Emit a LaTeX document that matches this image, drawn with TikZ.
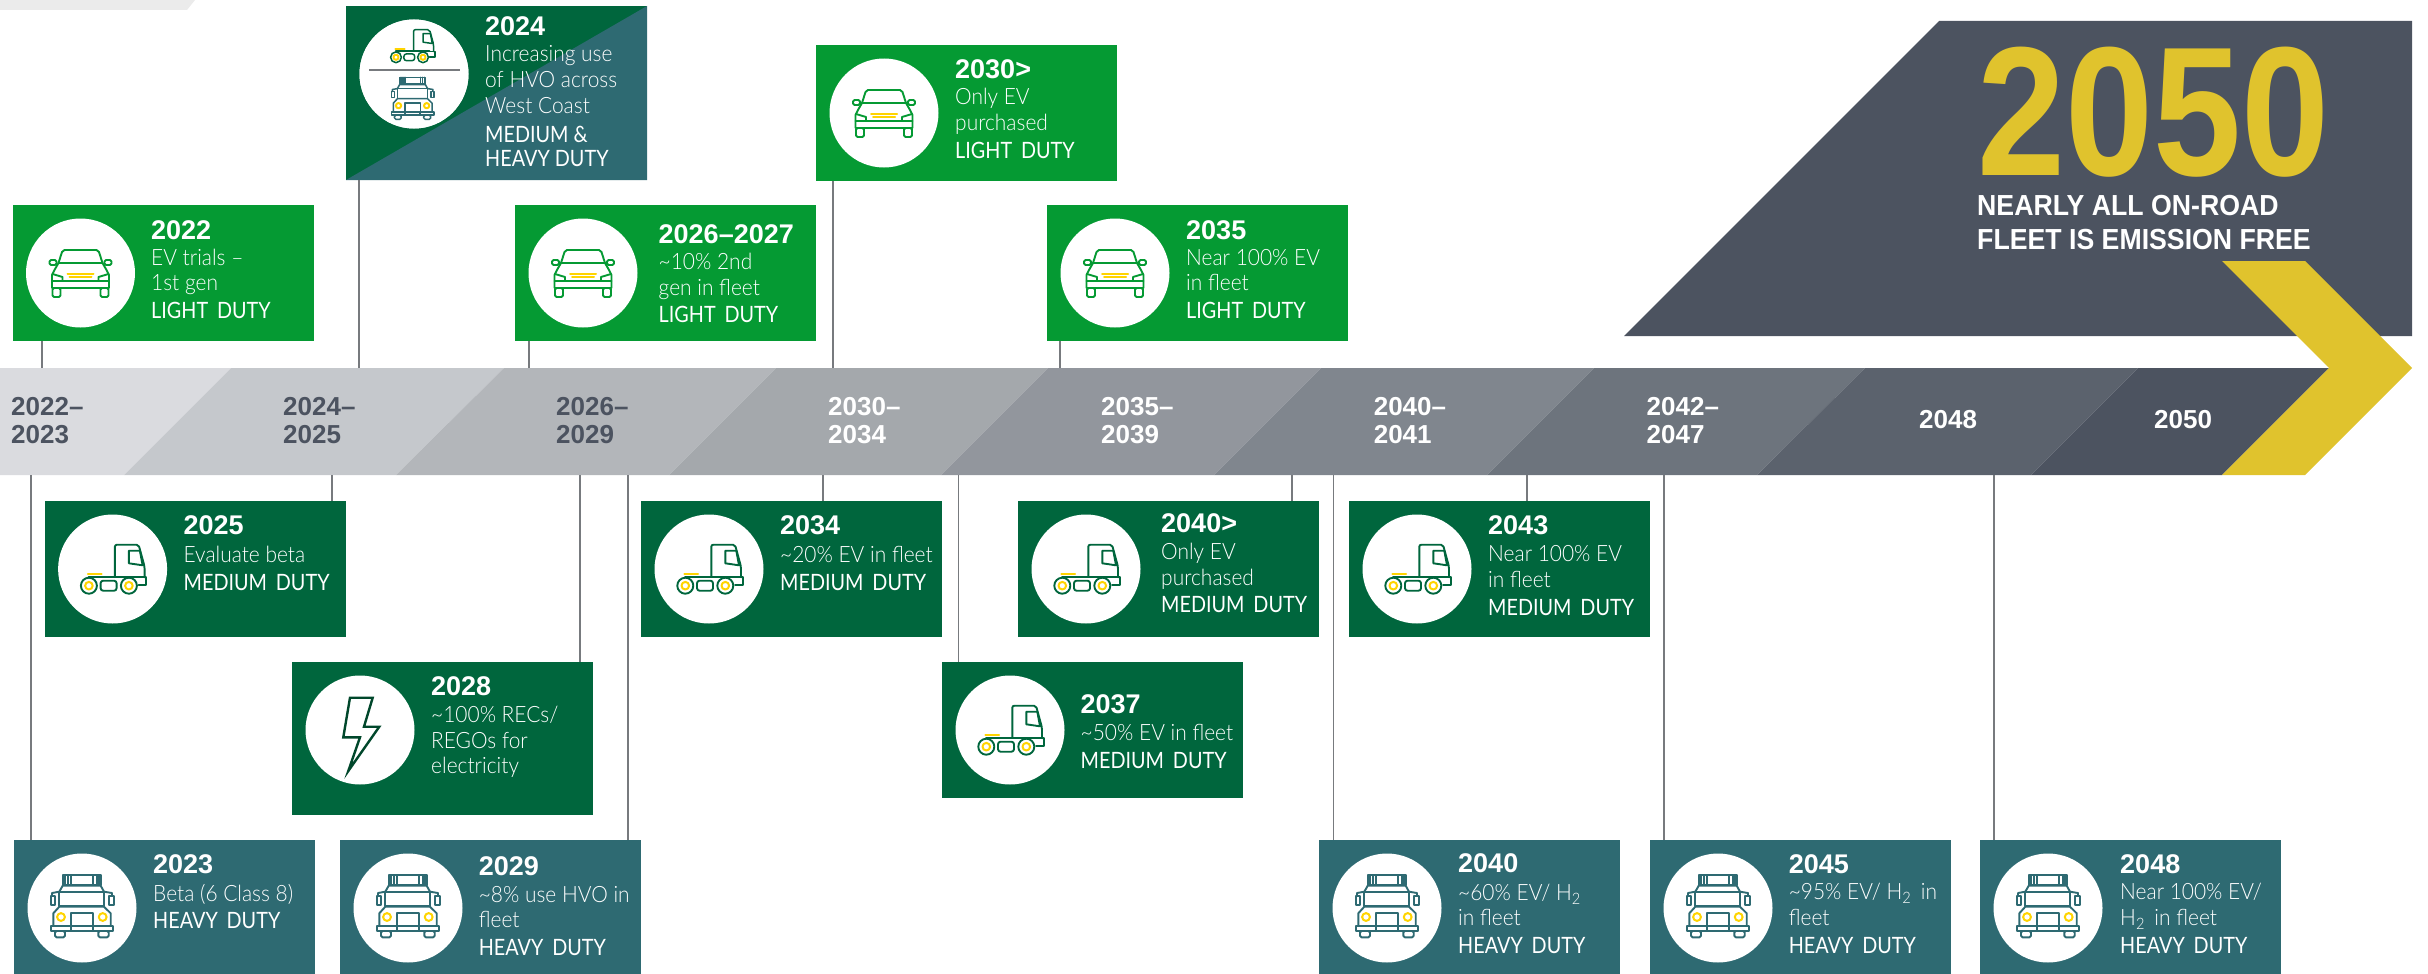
\documentclass[tikz,border=0pt]{standalone}
\usepackage{fontspec}
\usetikzlibrary{calc}
\setmainfont{Lato}[FakeStretch=0.88]
\newfontfamily\yrfam{Liberation Sans}[BoldFont={Liberation Sans Bold}]
\newfontfamily\lightfam{Lato Light}[FakeStretch=0.93]
\newfontfamily\headfam{Liberation Sans Bold}[FakeStretch=0.92]
\newfontfamily\bigfam{Liberation Sans Bold}[FakeStretch=0.86]
\definecolor{lg}{HTML}{059A33}
\definecolor{dg}{HTML}{00663D}
\definecolor{tl}{HTML}{2E6A72}
\definecolor{ye}{HTML}{FFD400}
\definecolor{gold}{HTML}{E0C32D}
\definecolor{slate}{HTML}{4C5360}
\definecolor{ln}{HTML}{777A7E}
\definecolor{sa}{HTML}{DADBDF}
\definecolor{sb}{HTML}{C5C8CC}
\definecolor{sc}{HTML}{B3B6BA}
\definecolor{sd}{HTML}{A4A8AC}
\definecolor{se}{HTML}{92969D}
\definecolor{sf}{HTML}{80868E}
\definecolor{sg}{HTML}{6D747D}
\definecolor{sh}{HTML}{5B626D}
\newcount\tncount
\tikzset{
  tbox/.style={anchor=north west,inner sep=0pt,outer sep=0pt,minimum width=301pt},
  disc/.style={circle,fill=white,inner sep=0pt,outer sep=0pt,minimum size=109pt},
  conn/.style={draw=ln,line width=1.4pt},
  icon/.style={line width=1.9pt,line join=round,line cap=round},
  yel/.style={draw=ye,line width=2pt},
  yrtext/.style={anchor=base west,inner sep=0pt,text=white,font=\yrfam\bfseries\fontsize{27}{30}\selectfont},
  bodytext/.style={anchor=base west,inner sep=0pt,text=white,font=\lightfam\fontsize{22.5}{26}\selectfont},
  dutytext/.style={anchor=base west,inner sep=0pt,text=white,font=\fontsize{22.5}{26}\selectfont},
  barlabel/.style={anchor=base west,inner sep=0pt,font=\yrfam\bfseries\fontsize{26}{30}\selectfont},
  headtext/.style={anchor=base west,inner sep=0pt,text=white,font=\headfam\fontsize{29}{33}\selectfont},
  iconcar/.pic={
    \begin{scope}[icon]
    \draw (-22,-10) -- (-18.5,-21) -- (-16,-23) -- (16,-23) -- (18.5,-21) -- (22,-10);
    \draw (-28.5,15) -- (-28.5,2) -- (-26,-3) -- (-22,-10) -- (22,-10) -- (26,-3) -- (28.5,2) -- (28.5,15) -- cycle;
    \draw (-28.5,8) -- (28.5,8);
    \draw (-28,1) -- (-18,4) -- (-18,8);
    \draw (28,1) -- (18,4) -- (18,8);
    \draw[rounded corners=1.5pt] (-28,15) rectangle (-20,24);
    \draw[rounded corners=1.5pt] (20,15) rectangle (28,24);
    \draw[rounded corners=1.5pt] (-31,-13) rectangle (-24,-8);
    \draw[rounded corners=1.5pt] (24,-13) rectangle (31,-8);
    \draw[yel] (-13,0.7) -- (13,0.7);
    \draw[yel] (-11,4.3) -- (11,4.3);
    \end{scope}
  },
  icontruck/.pic={
    \begin{scope}[icon]
    \draw[rounded corners=2pt] (2.3,7.7) -- (2.3,-24.3) -- (26,-24.3) -- (32,-2.3) -- (32,8.3);
    \draw (26,8.3) -- (33.7,8.3) -- (33.7,16) -- (26,16);
    \draw (-24,7.7) -- (26,7.7);
    \draw (16.3,-18.3) -- (27.3,-18.3) -- (30,-3.7) -- (16.3,-5.7) -- cycle;
    \draw[fill=white] (-23.7,16.7) circle (8);
    \draw[fill=white] (16.3,16.7) circle (8);
    \draw[yel] (-23.7,16.7) circle (3.8);
    \draw[yel] (16.3,16.7) circle (3.8);
    \draw[rounded corners=2.5pt] (-12,11.7) rectangle (4,21.7);
    \draw[yel] (-24.7,4.7) -- (-11,4.7);
    \end{scope}
  },
  iconheavy/.pic={
    \begin{scope}[icon]
    \draw (-19.3,-33) rectangle (19.3,-23);
    \foreach \vx in {-17,-14.3,-11.3,11.3,14.7,17.3} \draw (\vx,-33) -- (\vx,-23);
    \draw (-22.7,-16.3) -- (-19.3,-22.3) -- (18.7,-22.3) -- (22,-16.3);
    \draw (-22.7,-16.3) rectangle (22,-2);
    \draw (-28.7,18) -- (-28.7,5.3) -- (-22.7,-1.3) -- (22,-1.3) -- (28.7,5.3) -- (28.7,18);
    \draw (-31.3,18) rectangle (31.3,23);
    \draw (-11.3,18) -- (-11.3,23);
    \draw (10.7,18) -- (10.7,23);
    \draw (-11.3,4.7) rectangle (11.3,18);
    \draw[yel] (-21,9) circle (3.9);
    \draw[yel] (20.7,9) circle (3.9);
    \draw (-31.3,-12) rectangle (-26.7,-3);
    \draw (27,-12) rectangle (31.7,-3);
    \draw (-30,-12) -- (-30,-15) -- (-22.7,-16.3);
    \draw (30,-12) -- (30,-15) -- (22,-16.3);
    \draw[rounded corners=1.5pt] (-27,23) rectangle (-17,29.3);
    \draw[rounded corners=1.5pt] (16.3,23) rectangle (26.7,29.3);
    \end{scope}
  },
  iconbolt/.pic={
    \draw[draw=black!30!dg,line width=2.4pt,line join=miter]
      (-10,-32.3) -- (12.7,-32.3) -- (4,-3.3) -- (19.3,-3.3) -- (-11.7,41) -- (0,7.3) -- (-16.7,7.3) -- cycle;
  }
}
\newcommand\tlbox[6]{%
  \node[tbox,fill=#5,minimum height=#4pt] (b#1) at (#2,#3) {};
  \node[disc] (c#1) at (#2+68,#3+68) {};
  \ifx\relax#6\relax\else\pic[color=#5] at (c#1) {#6};\fi
}
\newcommand\putline[4]{\global\advance\tncount by 1 \node[#1] (t\the\tncount) at (#2,#3) {#4};}
\newcommand\yr[3]{\putline{yrtext}{#1}{#2}{#3}}
\newcommand\bd[3]{\putline{bodytext}{#1}{#2}{#3}}
\newcommand\dy[3]{\putline{dutytext}{#1}{#2}{#3}}
\newcommand\lb[4]{\putline{barlabel,text=#1}{#2}{#3}{#4}}
\newcommand\linkup[2]{\draw[conn] (b#1.south -| #2,0) -- (bar.north -| #2,0);}
\newcommand\linkdn[2]{\draw[conn] (bar.south -| #2,0) -- (b#1.north -| #2,0);}
\begin{document}
\begin{tikzpicture}[x=1pt,y=-1pt]
\useasboundingbox (0,0) rectangle (2428,974);
% stray band
\fill[black!8] (0,0) -- (195,0) -- (187,10) -- (0,10) -- cycle;
% big panel
\fill[slate] (1939,21) -- (2412,21) -- (2412,336) -- (1624,336) -- cycle;
% bar
\node[anchor=north west,inner sep=0pt,outer sep=0pt,minimum width=2412pt,minimum height=107pt] (bar) at (0,368) {};
\fill[sa] (0,368) -- (231,368) -- (124,475) -- (0,475) -- cycle;
\fill[sb] (124,475) -- (231,368) -- (504,368) -- (396,475) -- cycle;
\fill[sc] (396,475) -- (504,368) -- (776,368) -- (669,475) -- cycle;
\fill[sd] (669,475) -- (776,368) -- (1048,368) -- (941,475) -- cycle;
\fill[se] (941,475) -- (1048,368) -- (1321,368) -- (1214,475) -- cycle;
\fill[sf] (1214,475) -- (1321,368) -- (1594,368) -- (1487,475) -- cycle;
\fill[sg] (1487,475) -- (1594,368) -- (1865,368) -- (1757,475) -- cycle;
\fill[sh] (1757,475) -- (1865,368) -- (2138,368) -- (2031,475) -- cycle;
\fill[slate] (2031,475) -- (2138,368) -- (2329,368) -- (2222,475) -- cycle;
\fill[gold] (2222,261) -- (2305,261) -- (2412,368) -- (2305,475) -- (2222,475) -- (2329,368) -- cycle;
% headline
\node[anchor=base west,inner sep=0pt,text=gold,font=\bigfam\fontsize{184}{190}\selectfont] (headyear) at (1977,175.5) {2050};
\node[headtext] (head1) at (1977,215) {NEARLY ALL ON-ROAD};
\node[headtext] (head2) at (1977,249) {FLEET IS EMISSION FREE};
% boxes
\tlbox{2022}{12.5}{205}{136}{lg}{iconcar}
\tlbox{2024}{346}{6}{174}{dg}{}
\tlbox{2026}{515}{205}{136}{lg}{iconcar}
\tlbox{2030}{816}{45}{136}{lg}{iconcar}
\tlbox{2035}{1047}{205}{136}{lg}{iconcar}
\tlbox{2025}{44.6}{501}{136}{dg}{icontruck}
\tlbox{2028}{292}{662}{153}{dg}{iconbolt}
\tlbox{2034}{641}{501}{136}{dg}{icontruck}
\tlbox{2037}{942}{662}{136}{dg}{icontruck}
\tlbox{2040up}{1018}{501}{136}{dg}{icontruck}
\tlbox{2043}{1349}{501}{136}{dg}{icontruck}
\tlbox{2023}{14}{840}{134}{tl}{iconheavy}
\tlbox{2029}{340}{840}{134}{tl}{iconheavy}
\tlbox{2040}{1319}{840}{134}{tl}{iconheavy}
\tlbox{2045}{1650}{840}{134}{tl}{iconheavy}
\tlbox{2048}{1980}{840}{134}{tl}{iconheavy}
% split box 2024
\fill[tl] (b2024.north east) -- (b2024.south east) -- (b2024.south west) -- cycle;
\node[disc] (c2024b) at (c2024) {};
\pic[color=dg,scale=0.675,icon/.append style={line width=1.5pt}] at (412,46) {icontruck};
\pic[color=tl,scale=0.675,icon/.append style={line width=1.5pt}] at (412.7,99.6) {iconheavy};
\draw[draw=ln,line width=2pt] ($(c2024b)+(-45,-4.3)$) -- ($(c2024b)+(46,-4.3)$);
% connectors
\linkup{2022}{42}
\linkup{2024}{359}
\linkup{2026}{529}
\linkup{2030}{833}
\linkup{2035}{1060}
\linkdn{2023}{31}
\linkdn{2025}{332}
\linkdn{2028}{580}
\linkdn{2029}{628}
\linkdn{2034}{823}
\linkdn{2037}{958.6}
\linkdn{2040up}{1292}
\linkdn{2040}{1333.5}
\linkdn{2043}{1527}
\linkdn{2045}{1664}
\linkdn{2048}{1994}
% bar labels
\lb{slate}{11}{415}{2022–} \lb{slate}{11}{443}{2023}
\lb{slate}{283}{415}{2024–} \lb{slate}{283}{443}{2025}
\lb{slate}{556}{415}{2026–} \lb{slate}{556}{443}{2029}
\lb{white}{828}{415}{2030–} \lb{white}{828}{443}{2034}
\lb{white}{1101}{415}{2035–} \lb{white}{1101}{443}{2039}
\lb{white}{1373.6}{415}{2040–} \lb{white}{1373.6}{443}{2041}
\lb{white}{1646.5}{415}{2042–} \lb{white}{1646.5}{443}{2047}
\lb{white}{1919}{428}{2048}
\lb{white}{2154}{428}{2050}
% box texts
\yr{151}{239}{2022} \bd{151}{265}{EV trials –} \bd{151}{290}{1st gen} \dy{151}{318}{LIGHT\, DUTY}
\yr{485}{36}{2024} \bd{485}{62}{Increasing use} \bd{485}{88}{of HVO across} \bd{485}{113}{West Coast} \dy{485}{142}{MEDIUM \&} \dy{485}{166}{HEAVY DUTY}
\yr{658.5}{243}{2026–2027} \bd{658.5}{269}{\char"7E 10\% 2nd} \bd{658.5}{295}{gen in fleet} \dy{658.5}{322}{LIGHT\, DUTY}
\yr{955}{78}{2030>} \bd{955}{104}{Only EV} \bd{955}{130}{purchased} \dy{955}{158}{LIGHT\, DUTY}
\yr{1186}{239}{2035} \bd{1186}{265}{Near 100\% EV} \bd{1186}{290}{in fleet} \dy{1186}{318}{LIGHT\, DUTY}
\yr{183.5}{534}{2025} \bd{183.5}{562}{Evaluate beta} \dy{183.5}{590}{MEDIUM\, DUTY}
\yr{431}{695}{2028} \bd{431}{722}{\char"7E 100\% RECs/} \bd{431}{748}{REGOs for} \bd{431}{773}{electricity}
\yr{780}{534}{2034} \bd{780}{562}{\char"7E 20\% EV in fleet} \dy{780}{590}{MEDIUM\, DUTY}
\yr{1080.5}{713}{2037} \bd{1080.5}{740}{\char"7E 50\% EV in fleet} \dy{1080.5}{768}{MEDIUM\, DUTY}
\yr{1161}{532}{2040>} \bd{1161}{559}{Only EV} \bd{1161}{585}{purchased} \dy{1161}{612}{MEDIUM\, DUTY}
\yr{1488}{534}{2043} \bd{1488}{561}{Near 100\% EV} \bd{1488}{587}{in fleet} \dy{1488}{615}{MEDIUM\, DUTY}
\yr{153}{873}{2023} \bd{153}{901}{Beta (6 Class 8)} \dy{153}{928}{HEAVY\, DUTY}
\yr{478.6}{875}{2029} \bd{478.6}{902}{\char"7E 8\% use HVO in} \bd{478.6}{927}{fleet} \dy{478.6}{955}{HEAVY\, DUTY}
\yr{1458}{872}{2040} \bd{1458}{900}{\char"7E 60\% EV/ H\textsubscript{2}} \bd{1458}{925}{in fleet} \dy{1458}{953}{HEAVY\, DUTY}
\yr{1788.6}{873}{2045} \bd{1788.6}{899}{\char"7E 95\% EV/ H\textsubscript{2}\, in} \bd{1788.6}{925}{fleet} \dy{1788.6}{953}{HEAVY\, DUTY}
\yr{2120}{873}{2048} \bd{2120}{899}{Near 100\% EV/} \bd{2120}{925}{H\textsubscript{2}\, in fleet} \dy{2120}{953}{HEAVY\, DUTY}
\end{tikzpicture}
\end{document}
